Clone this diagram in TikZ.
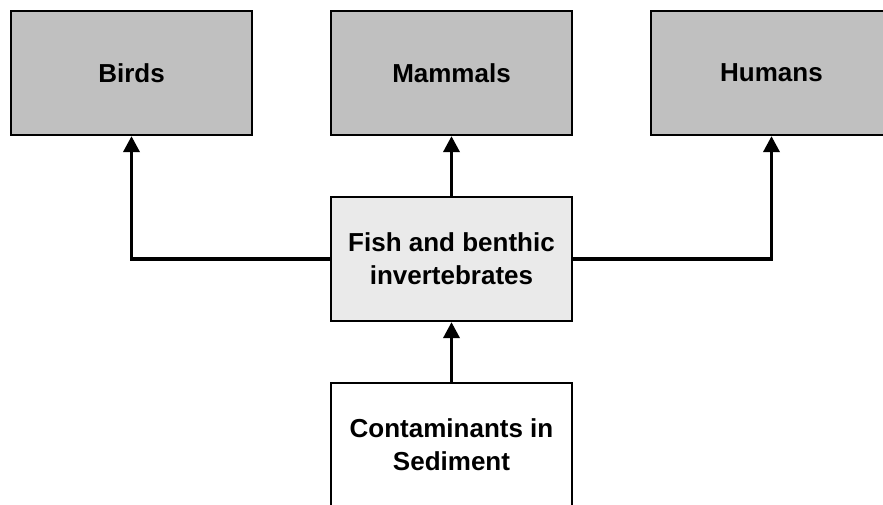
\documentclass[tikz,border=0pt]{standalone}
\usepackage{fontspec}
\setmainfont{Liberation Sans}
\usetikzlibrary{arrows.meta}
\definecolor{topgray}{HTML}{C0C0C0}
\definecolor{midgray}{HTML}{EAEAEA}
\tikzset{
  box/.style={draw=black, line width=2.2pt, rectangle, minimum width=241pt, minimum height=124pt,
    inner sep=0pt, align=center, font=\fontsize{26}{33}\selectfont\bfseries},
  conn/.style={line width=3.5pt, -{Triangle[width=16pt,length=16pt]}}
}
\begin{document}
\begin{tikzpicture}[x=1pt,y=-1pt]
\useasboundingbox (0,0) rectangle (883,504);
\clip (0,0) rectangle (883,504);
\node[box, fill=topgray] (birds) at (131.5,73) {Birds};
\node[box, fill=topgray] (mammals) at (451.5,73) {Mammals};
\node[box, fill=topgray] (humans) at (771.5,73) {Humans};
\node[box, fill=midgray] (fish) at (451.5,259) {Fish and benthic\\invertebrates};
\node[box, fill=white] (contam) at (451.5,445) {Contaminants in\\Sediment};
\draw[conn] (fish.west) -| (birds.south);
\draw[conn] (fish.east) -| (humans.south);
\draw[conn] (fish.north) -- (mammals.south);
\draw[conn] (contam.north) -- (fish.south);
\end{tikzpicture}
\end{document}
